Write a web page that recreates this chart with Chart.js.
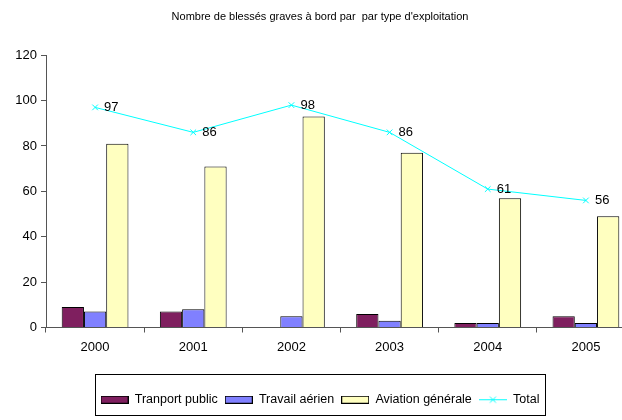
<!DOCTYPE html>
<html>
<head>
<meta charset="utf-8">
<script src="https://cdn.jsdelivr.net/npm/chart.js@4"></script>
<style>
  html, body { margin: 0; padding: 0; background: #fff; overflow: hidden; }
  body { width: 622px; height: 420px; }
  #wrap { position: relative; width: 640px; height: 420px; }
</style>
</head>
<body>
<div id="wrap"><canvas id="myChart"></canvas></div>
<script>
// Données
const annees = ['2000', '2001', '2002', '2003', '2004', '2005'];
const transportPublic = [9, 7, 0, 6, 2, 5];
const travailAerien = [7, 8, 5, 3, 2, 2];
const aviationGenerale = [81, 71, 93, 77, 57, 49];
const total = [97, 86, 98, 86, 61, 56];
const yTicks = [0, 20, 40, 60, 80, 100, 120];

Chart.defaults.font.family = 'Arial, "Liberation Sans", sans-serif';
Chart.defaults.color = '#000';

// petite icône de légende (rectangle ou ligne avec croix)
function iconeBarre(fond) {
    const c = document.createElement('canvas');
    c.width = 28; c.height = 8;
    const g = c.getContext('2d');
    g.fillStyle = fond;
    g.fillRect(0.5, 0.5, 27, 7);
    g.strokeStyle = '#000';
    g.lineWidth = 1;
    g.strokeRect(0.5, 0.5, 27, 7);
    return c;
}
function iconeLigne(couleur) {
    const c = document.createElement('canvas');
    c.width = 28; c.height = 9;
    const g = c.getContext('2d');
    g.strokeStyle = couleur;
    g.lineWidth = 1;
    g.beginPath();
    g.moveTo(0, 4.5); g.lineTo(28, 4.5);
    g.moveTo(11, 1.5); g.lineTo(17, 7.5);
    g.moveTo(17, 1.5); g.lineTo(11, 7.5);
    g.stroke();
    return c;
}

// étiquettes de valeur pour la courbe Total
const etiquettes = {
    id: 'etiquettes',
    afterDatasetsDraw(chart) {
        const ctx = chart.ctx;
        chart.data.datasets.forEach((ds, i) => {
            if (ds.type !== 'line') return;
            const meta = chart.getDatasetMeta(i);
            ctx.save();
            ctx.font = '13px Arial, "Liberation Sans", sans-serif';
            ctx.fillStyle = '#000';
            ctx.textAlign = 'left';
            ctx.textBaseline = 'middle';
            meta.data.forEach((pt, j) => {
                ctx.fillText(ds.data[j], pt.x + 9, pt.y);
            });
            ctx.restore();
        });
    }
};

// cadre autour de la légende
const cadreLegende = {
    id: 'cadreLegende',
    afterDraw(chart) {
        const boxes = chart.legend.legendHitBoxes;
        if (!boxes || !boxes.length) return;
        const left = Math.min(...boxes.map(b => b.left));
        const right = Math.max(...boxes.map(b => b.left + b.width));
        const top = Math.min(...boxes.map(b => b.top));
        const bottom = Math.max(...boxes.map(b => b.top + b.height));
        const ctx = chart.ctx;
        ctx.save();
        ctx.strokeStyle = '#000';
        ctx.lineWidth = 1;
        ctx.strokeRect(Math.round(left - 6) + 0.5, Math.round(top - 20) + 0.5,
                       Math.round(right - left + 11), Math.round(bottom - top + 28));
        ctx.restore();
    }
};

const ctx = document.getElementById('myChart').getContext('2d');
window.myChart = new Chart(ctx, {
    data: {
        labels: annees,
        datasets: [
            {
                type: 'bar',
                label: 'Tranport public',
                data: transportPublic,
                backgroundColor: '#7F1F5F',
                borderColor: '#000',
                borderWidth: 1,
                legendIcon: iconeBarre('#7F1F5F')
            },
            {
                type: 'bar',
                label: 'Travail aérien',
                data: travailAerien,
                backgroundColor: '#8080FF',
                borderColor: '#000',
                borderWidth: 1,
                legendIcon: iconeBarre('#8080FF')
            },
            {
                type: 'bar',
                label: 'Aviation générale',
                data: aviationGenerale,
                backgroundColor: '#FFFFC0',
                borderColor: '#000',
                borderWidth: 1,
                legendIcon: iconeBarre('#FFFFC0')
            },
            {
                type: 'line',
                label: 'Total',
                data: total,
                borderColor: '#00FFFF',
                backgroundColor: '#00FFFF',
                borderWidth: 1,
                pointStyle: 'crossRot',
                pointRadius: 4,
                pointBorderColor: '#00FFFF',
                pointBorderWidth: 1,
                fill: false,
                order: -1,
                legendIcon: iconeLigne('#00FFFF')
            }
        ]
    },
    options: {
        responsive: true,
        maintainAspectRatio: false,
        animation: false,
        layout: { padding: { left: 0, right: 0, top: 0, bottom: 4 } },
        datasets: {
            bar: { categoryPercentage: 0.68, barPercentage: 1 }
        },
        scales: {
            x: {
                offset: true,
                grid: { offset: true, drawOnChartArea: false, tickLength: 5, color: '#555' },
                border: { color: '#555' },
                ticks: { padding: 7, font: { size: 13 } },
                afterFit(scale) { scale.height = 59; }
            },
            y: {
                min: 0,
                max: 120,
                afterBuildTicks(scale) { scale.ticks = yTicks.map(v => ({ value: v })); },
                grid: { drawOnChartArea: false, tickLength: 5, color: '#555' },
                border: { color: '#555' },
                ticks: { padding: 4, font: { size: 13 } },
                afterFit(scale) { scale.width = 46; }
            }
        },
        plugins: {
            title: {
                display: true,
                text: "Nombre de blessés graves à bord par  par type d'exploitation",
                font: { size: 11, weight: 'normal' },
                color: '#000',
                padding: { top: 10, bottom: 32 }
            },
            legend: {
                position: 'bottom',
                labels: {
                    usePointStyle: true,
                    pointStyleWidth: 28,
                    boxHeight: 8,
                    padding: 7,
                    font: { size: 12.5 },
                    generateLabels(chart) {
                        return chart.data.datasets.map((ds, i) => ({
                            text: ds.label,
                            pointStyle: ds.legendIcon,
                            fillStyle: ds.backgroundColor,
                            strokeStyle: ds.borderColor,
                            lineWidth: 0,
                            hidden: false,
                            datasetIndex: i,
                            fontColor: '#000'
                        }));
                    }
                }
            },
            tooltip: { enabled: false }
        }
    },
    plugins: [etiquettes, cadreLegende]
});
</script>
</body>
</html>
